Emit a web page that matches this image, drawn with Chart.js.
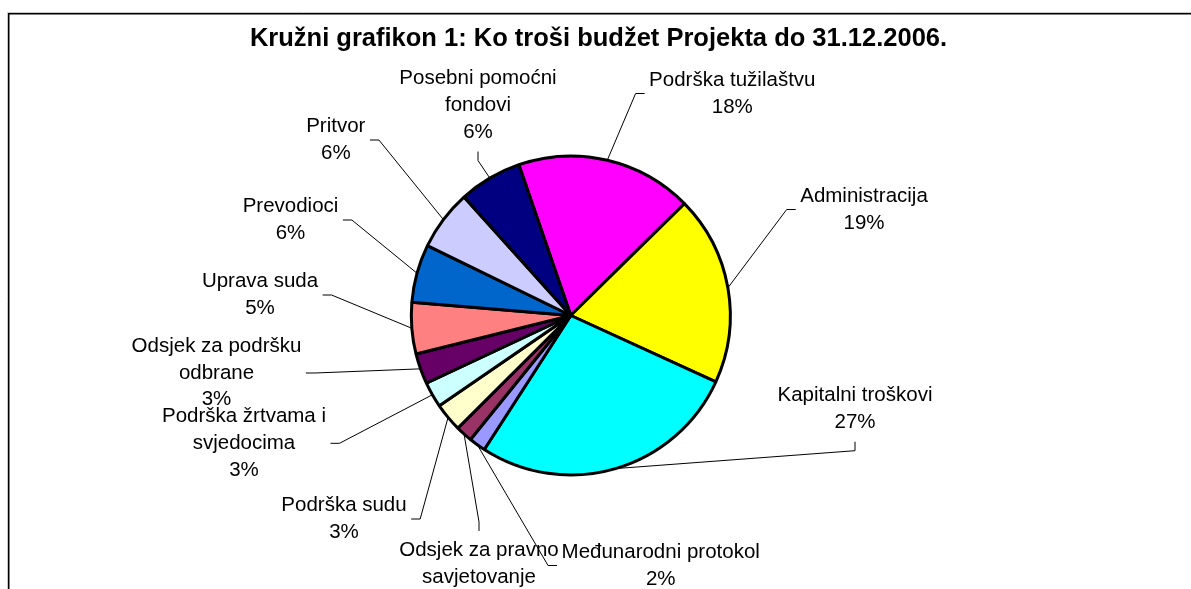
<!DOCTYPE html>
<html>
<head>
<meta charset="utf-8">
<script src="https://cdn.jsdelivr.net/npm/chart.js@4.4.1/dist/chart.umd.min.js"></script>
<style>
  html, body { margin: 0; padding: 0; background: #fff; }
  #wrap { width: 1191px; height: 589px; overflow: hidden; }
</style>
</head>
<body>
<div id="wrap"><canvas id="c" width="1191" height="589"></canvas></div>
<script>
// ---- data ----
const chartTitle = 'Kružni grafikon 1: Ko troši budžet Projekta do 31.12.2006.';
const categories = [
  ['Podrška tužilaštvu'],
  ['Administracija'],
  ['Kapitalni troškovi'],
  ['Međunarodni protokol'],
  ['Odsjek za pravno', 'savjetovanje'],
  ['Podrška sudu'],
  ['Podrška žrtvama i', 'svjedocima'],
  ['Odsjek za podršku', 'odbrane'],
  ['Uprava suda'],
  ['Prevodioci'],
  ['Pritvor'],
  ['Posebni pomoćni', 'fondovi']
];
const shares = [17.9, 19.2, 27.3, 1.7, 1.7, 2.9, 2.6, 3.1, 5.2, 5.9, 6.1, 6.4];
const sliceColors = ['#FF00FF', '#FFFF00', '#00FFFF', '#9999FF', '#993366', '#FFFFCC',
                     '#CCFFFF', '#660066', '#FF8080', '#0066CC', '#CCCCFF', '#000080'];

// ---- label layout (offset of label block centre from pie centre, side where leader attaches) ----
const labelLayout = [
  { dx: 161.5, dy: -222,  side: 'left' },
  { dx: 293.2, dy: -106,  side: 'left' },
  { dx: 284.2, dy: 93.5,  side: 'bottom' },
  { dx: 89.9,  dy: 250,   side: 'left' },
  { dx: -91.8, dy: 261.5, side: 'top' },
  { dx: -226.8, dy: 203.5, side: 'right' },
  { dx: -326.8, dy: 127.8, side: 'right' },
  { dx: -354.3, dy: 57.5, side: 'right' },
  { dx: -310.8, dy: -20.5, side: 'right' },
  { dx: -280.3, dy: -95.5, side: 'right' },
  { dx: -235,  dy: -175.5, side: 'right' },
  { dx: -92.8, dy: -210,  side: 'bottom' }
];

const LABEL_FONT = '20.5px "Liberation Sans", Arial, sans-serif';
const LINE_H = 26.7;
const PAD_X = 4.5, PAD_Y = 6, STUB = 9;

const framePlugin = {
  id: 'frame',
  beforeDraw(chart) {
    const ctx = chart.ctx;
    ctx.save();
    ctx.fillStyle = '#fff';
    ctx.fillRect(0, 0, chart.width, chart.height);
    ctx.strokeStyle = '#c8c8c8';
    ctx.lineWidth = 1;
    ctx.beginPath();
    ctx.moveTo(7.5, chart.height + 5); ctx.lineTo(7.5, 12.5); ctx.lineTo(chart.width + 5, 12.5);
    ctx.stroke();
    ctx.strokeStyle = '#000';
    ctx.lineWidth = 1.5;
    ctx.beginPath();
    ctx.moveTo(8.75, chart.height + 5); ctx.lineTo(8.75, 13.75); ctx.lineTo(chart.width + 5, 13.75);
    ctx.stroke();
    ctx.restore();
  },
  afterDraw(chart) {
    const ctx = chart.ctx;
    ctx.save();
    ctx.fillStyle = '#000';
    ctx.font = 'bold 25.5px "Liberation Sans", Arial, sans-serif';
    ctx.textAlign = 'center';
    ctx.textBaseline = 'alphabetic';
    ctx.fillText(chartTitle, 598.5, 46);
    ctx.restore();
  }
};

const outsideLabels = {
  id: 'outsideLabels',
  afterDatasetsDraw(chart) {
    const ctx = chart.ctx;
    const meta = chart.getDatasetMeta(0);
    const data = chart.data.datasets[0].data;
    const total = data.reduce((a, b) => a + b, 0);
    ctx.save();
    ctx.font = LABEL_FONT;
    meta.data.forEach((arc, i) => {
      const p = arc.getProps(['x', 'y', 'startAngle', 'endAngle', 'outerRadius'], true);
      const mid = (p.startAngle + p.endAngle) / 2;
      const ax = p.x + Math.cos(mid) * p.outerRadius;
      const ay = p.y + Math.sin(mid) * p.outerRadius;
      const lay = labelLayout[i];
      const cx = p.x + lay.dx, cy = p.y + lay.dy;
      const lines = [...chart.data.labels[i], Math.round(data[i] / total * 100) + '%'];
      const maxW = Math.max(...lines.map(t => ctx.measureText(t).width));
      const halfW = maxW / 2 + PAD_X;
      const halfH = lines.length * LINE_H / 2 + PAD_Y;
      let bx, by, sx, sy;
      if (lay.side === 'left') { bx = cx - halfW; by = cy; sx = bx - STUB; sy = by; }
      else if (lay.side === 'right') { bx = cx + halfW; by = cy; sx = bx + STUB; sy = by; }
      else if (lay.side === 'top') { bx = cx; by = cy - halfH; sx = bx; sy = by - STUB; }
      else { bx = cx; by = cy + halfH; sx = bx; sy = by + STUB; }
      ctx.strokeStyle = '#000';
      ctx.lineWidth = 1;
      ctx.beginPath();
      ctx.moveTo(ax, ay); ctx.lineTo(sx, sy); ctx.lineTo(bx, by);
      ctx.stroke();
      ctx.fillStyle = '#000';
      ctx.textAlign = 'center';
      ctx.textBaseline = 'middle';
      lines.forEach((t, k) => {
        ctx.fillText(t, cx, cy + (k - (lines.length - 1) / 2) * LINE_H);
      });
    });
    ctx.restore();
  }
};

new Chart(document.getElementById('c'), {
  type: 'pie',
  data: {
    labels: categories,
    datasets: [{
      data: shares,
      backgroundColor: sliceColors,
      borderColor: '#000',
      borderWidth: 3
    }]
  },
  options: {
    responsive: false,
    devicePixelRatio: 1,
    animation: false,
    rotation: -19,
    radius: 159.5,
    layout: { padding: { left: 150, right: 199.4, top: 100, bottom: 58 } },
    plugins: {
      legend: { display: false },
      title: { display: false },
      tooltip: { enabled: false }
    }
  },
  plugins: [framePlugin, outsideLabels]
});
</script>
</body>
</html>
